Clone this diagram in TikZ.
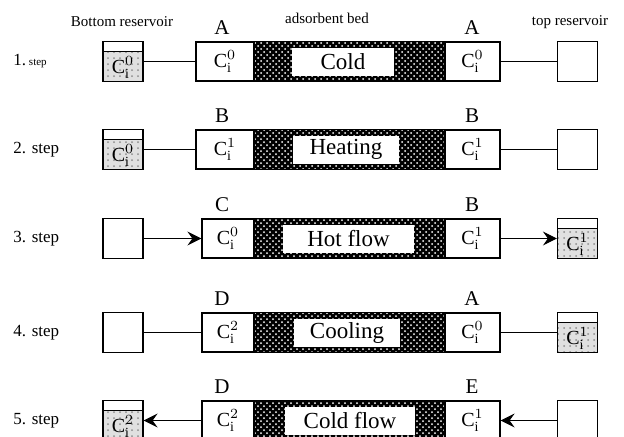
\documentclass[tikz,border=0pt]{standalone}
\usepackage{fontspec}
\setmainfont{Liberation Serif}
\usetikzlibrary{patterns,arrows.meta}

\newcommand{\conc}[1]{$\mathrm{C}_{\mathrm{i}}^{#1}$}

\tikzset{
    box/.style={draw, line width=0.6pt},
    cellbox/.style={box, minimum height=19.5pt, inner sep=0pt, font=\fontsize{10}{11}\selectfont},
    resbox/.style={box, minimum width=20pt, minimum height=20pt, inner sep=0pt},
    resfull/.style={resbox, path picture={
        \fill[black!12] ([yshift=-5pt]path picture bounding box.north west) rectangle (path picture bounding box.south east);
        \fill[pattern=dots, pattern color=black!45] ([yshift=-5pt]path picture bounding box.north west) rectangle (path picture bounding box.south east);
        \draw[line width=0.6pt] ([yshift=-5pt]path picture bounding box.north west) -- ([yshift=-5pt]path picture bounding box.north east);
        \node[font=\fontsize{10}{11}\selectfont] at ([yshift=-3pt]path picture bounding box.center) {\conc{#1}};}},
    bedlab/.style={fill=white, minimum height=14pt, inner sep=0pt, font=\fontsize{11.5}{12}\selectfont},
    letter/.style={font=\fontsize{10.5}{11}\selectfont},
    head/.style={font=\fontsize{7.5}{8}\selectfont},
    steplab/.style={anchor=west, inner sep=0pt, font=\fontsize{8.5}{9}\selectfont},
    conn/.style={line width=0.5pt}
}

\begin{document}
\begin{tikzpicture}[x=0.5pt, y=-0.5pt, >={Stealth[length=7pt, width=7pt, inset=2.5pt]}]
    % 1. Vùng hiển thị
    \useasboundingbox (0,0) rectangle (624,436);
    \clip (0,0) rectangle (624,436);

    % 2. Tiêu đề các cột
    \node[head] (hb) at (122,22) {Bottom reservoir};
    \node[head] (hm) at (327,18) {adsorbent bed};
    \node[head] (ht) at (570,22) {top reservoir};

    % 3. Nhãn các bước
    \node[steplab] (s1) at (13,61.5) {1.\,{\fontsize{5.5}{6}\selectfont step}};
    \foreach \n/\y in {2/149.5, 3/238.5, 4/332.5, 5/420.5}
        \node[steplab] (s\n) at (13,\y) {\n. step};

    % 4. Cột hấp phụ: ô trái, lớp vật liệu, ô phải
    \foreach \n/\y/\tagl/\tagr/\xl/\wl/\ca/\cb/\lab/\lx/\lw in {
        1/61.5/A/A/225/29pt/0/0/Cold/343/51pt,
        2/149.5/B/B/225/29pt/1/1/Heating/346/53pt,
        3/238.5/C/B/228/26pt/0/1/Hot flow/348.5/65.5pt,
        4/332.5/D/A/228/26pt/2/0/Cooling/347/53pt,
        5/420.5/D/E/228/26pt/2/1/Cold flow/350/65pt} {
        \node[cellbox, minimum width=\wl] (cl\n) at (\xl,\y) {\conc{\ca}};
        \node[cellbox, minimum width=27.5pt] (cr\n) at (472.5,\y) {\conc{\cb}};
        \fill[black] (cl\n.north east) rectangle (cr\n.south west);
        \fill[pattern=crosshatch dots, pattern color=white] (cl\n.north east) rectangle (cr\n.south west);
        \draw[box] (cl\n.north east) rectangle (cr\n.south west);
        \node[bedlab, minimum width=\lw] (bl\n) at (\lx,\y) {\lab};
        \node[letter] (la\n) at (222,\y-34) {\tagl};
        \node[letter] (ra\n) at (472,\y-34) {\tagr};
    }

    % 5. Bình chứa dưới (trái) và trên (phải)
    \node[resfull=0] (L1) at (123,61.5) {};
    \node[resfull=0] (L2) at (123,149.5) {};
    \node[resbox] (L3) at (123,238.5) {};
    \node[resbox] (L4) at (123,332.5) {};
    \node[resfull=2] (L5) at (123,420.5) {};
    \node[resbox] (R1) at (577.5,61.5) {};
    \node[resbox] (R2) at (577.5,149.5) {};
    \node[resfull=1] (R3) at (577.5,238.5) {};
    \node[resfull=1] (R4) at (577.5,332.5) {};
    \node[resbox] (R5) at (577.5,420.5) {};

    % 6. Đường nối và dòng chảy
    \draw[conn] (L1) -- (cl1);
    \draw[conn] (cr1) -- (R1);
    \draw[conn] (L2) -- (cl2);
    \draw[conn] (cr2) -- (R2);
    \draw[conn, ->] (L3) -- (cl3);
    \draw[conn, ->] (cr3) -- (R3);
    \draw[conn] (L4) -- (cl4);
    \draw[conn] (cr4) -- (R4);
    \draw[conn, ->] (cl5) -- (L5);
    \draw[conn, ->] (R5) -- (cr5);
\end{tikzpicture}
\end{document}
